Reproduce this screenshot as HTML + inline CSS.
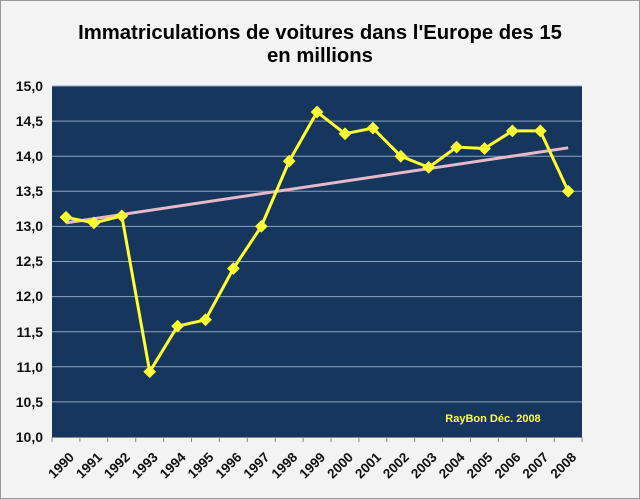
<!DOCTYPE html>
<html><head><meta charset="utf-8"><style>
html,body{margin:0;padding:0;background:#f4f4f4;}
svg{display:block;font-family:"Liberation Sans",Arial,sans-serif;}
</style></head><body>
<svg width="640" height="499" viewBox="0 0 640 499">
<rect x="0" y="0" width="640" height="499" fill="#f3f3f3"/>
<rect x="0.5" y="0.5" width="639" height="498" fill="none" stroke="#999"/>
<text x="320" y="39" text-anchor="middle" font-size="20.3" font-weight="bold" fill="#000">Immatriculations de voitures dans l'Europe des 15</text>
<text x="320" y="62" text-anchor="middle" font-size="20.3" font-weight="bold" fill="#000">en millions</text>
<rect x="52" y="86" width="530" height="351" fill="#17365d"/>
<g stroke="#8ea4c0" stroke-width="1">
<line x1="52" x2="582" y1="86" y2="86"/><line x1="52" x2="582" y1="121.1" y2="121.1"/>
<line x1="52" x2="582" y1="156.2" y2="156.2"/><line x1="52" x2="582" y1="191.3" y2="191.3"/>
<line x1="52" x2="582" y1="226.4" y2="226.4"/><line x1="52" x2="582" y1="261.5" y2="261.5"/>
<line x1="52" x2="582" y1="296.6" y2="296.6"/><line x1="52" x2="582" y1="331.7" y2="331.7"/>
<line x1="52" x2="582" y1="366.8" y2="366.8"/><line x1="52" x2="582" y1="401.9" y2="401.9"/>
</g>
<g stroke="#888" stroke-width="1">
<line x1="52" x2="582" y1="437.5" y2="437.5"/>
<line x1="52" x2="52" y1="437" y2="442"/><line x1="79.9" x2="79.9" y1="437" y2="442"/><line x1="107.8" x2="107.8" y1="437" y2="442"/><line x1="135.7" x2="135.7" y1="437" y2="442"/><line x1="163.6" x2="163.6" y1="437" y2="442"/><line x1="191.5" x2="191.5" y1="437" y2="442"/><line x1="219.4" x2="219.4" y1="437" y2="442"/><line x1="247.3" x2="247.3" y1="437" y2="442"/><line x1="275.2" x2="275.2" y1="437" y2="442"/><line x1="303.1" x2="303.1" y1="437" y2="442"/><line x1="331" x2="331" y1="437" y2="442"/><line x1="358.9" x2="358.9" y1="437" y2="442"/><line x1="386.8" x2="386.8" y1="437" y2="442"/><line x1="414.7" x2="414.7" y1="437" y2="442"/><line x1="442.6" x2="442.6" y1="437" y2="442"/><line x1="470.5" x2="470.5" y1="437" y2="442"/><line x1="498.4" x2="498.4" y1="437" y2="442"/><line x1="526.3" x2="526.3" y1="437" y2="442"/><line x1="554.2" x2="554.2" y1="437" y2="442"/><line x1="582" x2="582" y1="437" y2="442"/>
</g>
<g font-size="14" font-weight="bold" fill="#111" text-anchor="end">
<text x="43" y="91">15,0</text><text x="43" y="126">14,5</text><text x="43" y="161">14,0</text><text x="43" y="196">13,5</text><text x="43" y="231">13,0</text><text x="43" y="266">12,5</text><text x="43" y="301">12,0</text><text x="43" y="337">11,5</text><text x="43" y="372">11,0</text><text x="43" y="407">10,5</text><text x="43" y="442">10,0</text>
</g>
<g font-size="13.5" font-weight="bold" fill="#111" text-anchor="end">
<text transform="translate(75,458) rotate(-45)">1990</text>
<text transform="translate(102.9,458) rotate(-45)">1991</text>
<text transform="translate(130.8,458) rotate(-45)">1992</text>
<text transform="translate(158.7,458) rotate(-45)">1993</text>
<text transform="translate(186.6,458) rotate(-45)">1994</text>
<text transform="translate(214.5,458) rotate(-45)">1995</text>
<text transform="translate(242.4,458) rotate(-45)">1996</text>
<text transform="translate(270.3,458) rotate(-45)">1997</text>
<text transform="translate(298.2,458) rotate(-45)">1998</text>
<text transform="translate(326.1,458) rotate(-45)">1999</text>
<text transform="translate(354,458) rotate(-45)">2000</text>
<text transform="translate(381.9,458) rotate(-45)">2001</text>
<text transform="translate(409.8,458) rotate(-45)">2002</text>
<text transform="translate(437.7,458) rotate(-45)">2003</text>
<text transform="translate(465.6,458) rotate(-45)">2004</text>
<text transform="translate(493.5,458) rotate(-45)">2005</text>
<text transform="translate(521.4,458) rotate(-45)">2006</text>
<text transform="translate(549.3,458) rotate(-45)">2007</text>
<text transform="translate(577.2,458) rotate(-45)">2008</text>
</g>
<line x1="66" y1="222.9" x2="568.2" y2="147.8" stroke="#e6b9c8" stroke-width="3"/>
<polyline fill="none" stroke="#ffff33" stroke-width="3" stroke-linejoin="round" points="66,217.3 93.9,222.9 121.8,215.9 149.7,371.7 177.6,326.1 205.5,319.8 233.4,268.5 261.3,226.4 289.2,161.1 317.1,112 345,133.7 372.9,128.1 400.8,156.2 428.7,167.4 456.6,147.1 484.5,148.5 512.4,130.9 540.3,130.9 568.2,191.3"/>
<g fill="#ffff33">
<rect x="-4.5" y="-4.5" width="9" height="9" transform="translate(66,217.3) rotate(45)"/>
<rect x="-4.5" y="-4.5" width="9" height="9" transform="translate(93.9,222.9) rotate(45)"/>
<rect x="-4.5" y="-4.5" width="9" height="9" transform="translate(121.8,215.9) rotate(45)"/>
<rect x="-4.5" y="-4.5" width="9" height="9" transform="translate(149.7,371.7) rotate(45)"/>
<rect x="-4.5" y="-4.5" width="9" height="9" transform="translate(177.6,326.1) rotate(45)"/>
<rect x="-4.5" y="-4.5" width="9" height="9" transform="translate(205.5,319.8) rotate(45)"/>
<rect x="-4.5" y="-4.5" width="9" height="9" transform="translate(233.4,268.5) rotate(45)"/>
<rect x="-4.5" y="-4.5" width="9" height="9" transform="translate(261.3,226.4) rotate(45)"/>
<rect x="-4.5" y="-4.5" width="9" height="9" transform="translate(289.2,161.1) rotate(45)"/>
<rect x="-4.5" y="-4.5" width="9" height="9" transform="translate(317.1,112) rotate(45)"/>
<rect x="-4.5" y="-4.5" width="9" height="9" transform="translate(345,133.7) rotate(45)"/>
<rect x="-4.5" y="-4.5" width="9" height="9" transform="translate(372.9,128.1) rotate(45)"/>
<rect x="-4.5" y="-4.5" width="9" height="9" transform="translate(400.8,156.2) rotate(45)"/>
<rect x="-4.5" y="-4.5" width="9" height="9" transform="translate(428.7,167.4) rotate(45)"/>
<rect x="-4.5" y="-4.5" width="9" height="9" transform="translate(456.6,147.1) rotate(45)"/>
<rect x="-4.5" y="-4.5" width="9" height="9" transform="translate(484.5,148.5) rotate(45)"/>
<rect x="-4.5" y="-4.5" width="9" height="9" transform="translate(512.4,130.9) rotate(45)"/>
<rect x="-4.5" y="-4.5" width="9" height="9" transform="translate(540.3,130.9) rotate(45)"/>
<rect x="-4.5" y="-4.5" width="9" height="9" transform="translate(568.2,191.3) rotate(45)"/>
</g>
<text x="493" y="422" text-anchor="middle" font-size="11" font-weight="bold" fill="#ffff33">RayBon Déc. 2008</text>
</svg>
</body></html>
